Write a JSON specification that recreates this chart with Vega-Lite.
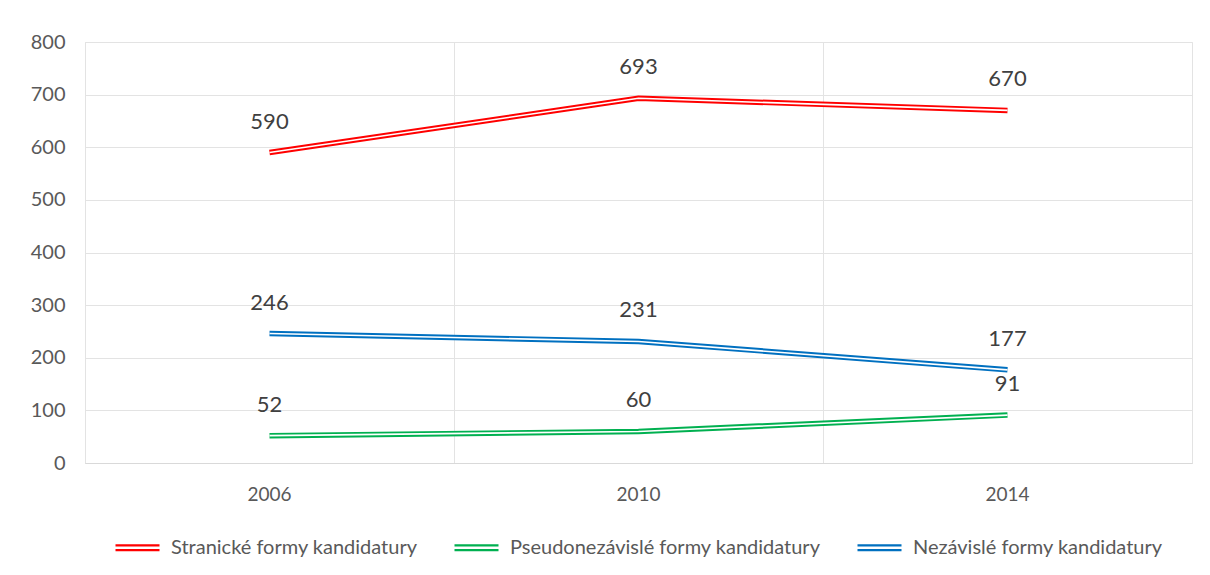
{
  "$schema": "https://vega.github.io/schema/vega-lite/v6.json",
  "width": 1107,
  "height": 421,
  "padding": {"left": 0, "top": 32, "right": 18, "bottom": 5},
  "background": "white",
  "config": {
    "font": "Lato",
    "view": {"stroke": "#E3E3E3", "strokeWidth": 1},
    "axis": {"labelFont": "Lato", "labelColor": "#595959", "labelFontSize": 19, "ticks": false, "gridColor": "#E3E3E3", "domain": false, "title": null},
    "legend": {"labelFont": "Lato", "labelColor": "#595959", "labelFontSize": 20, "layout": {"bottom": {"anchor": "middle"}}}
  },
  "data": {
    "values": [
      {"year": "2006", "series": "Stranické formy kandidatury", "value": 590},
      {"year": "2010", "series": "Stranické formy kandidatury", "value": 693},
      {"year": "2014", "series": "Stranické formy kandidatury", "value": 670},
      {"year": "2006", "series": "Pseudonezávislé formy kandidatury", "value": 52},
      {"year": "2010", "series": "Pseudonezávislé formy kandidatury", "value": 60},
      {"year": "2014", "series": "Pseudonezávislé formy kandidatury", "value": 91},
      {"year": "2006", "series": "Nezávislé formy kandidatury", "value": 246},
      {"year": "2010", "series": "Nezávislé formy kandidatury", "value": 231},
      {"year": "2014", "series": "Nezávislé formy kandidatury", "value": 177}
    ]
  },
  "encoding": {
    "x": {
      "field": "year", "type": "ordinal", "bandPosition": 0.5,
      "scale": {"type": "band", "paddingInner": 0, "paddingOuter": 0},
      "axis": {"labelAngle": 0, "grid": true, "bandPosition": 0, "labelPadding": 22, "domain": true, "domainColor": "#D9D9D9"}
    },
    "y": {
      "field": "value", "type": "quantitative",
      "scale": {"domain": [0, 800], "nice": false},
      "axis": {"values": [0, 100, 200, 300, 400, 500, 600, 700, 800], "labelPadding": 20, "minExtent": 85, "maxExtent": 85, "labelFontSize": 20}
    }
  },
  "layer": [
    {
      "mark": {"type": "line", "strokeWidth": 5.5},
      "encoding": {
        "color": {
          "field": "series", "type": "nominal",
          "scale": {
            "domain": ["Stranické formy kandidatury", "Pseudonezávislé formy kandidatury", "Nezávislé formy kandidatury"],
            "range": ["#FF0000", "#00B050", "#0070C0"]
          },
          "legend": {
            "orient": "bottom", "direction": "horizontal", "title": null,
            "symbolType": "M-1,-0.11H1M-1,0.11H1", "symbolSize": 1936, "symbolStrokeWidth": 2.2,
            "labelOffset": 10, "columnPadding": 32, "offset": 20, "labelLimit": 500
          }
        }
      }
    },
    {
      "mark": {"type": "line", "strokeWidth": 1.6, "color": "white"},
      "encoding": {"detail": {"field": "series"}}
    },
    {
      "mark": {"type": "text", "dy": -31, "fontSize": 22, "color": "#404040", "font": "Lato"},
      "encoding": {"text": {"field": "value", "type": "quantitative"}}
    }
  ]
}
